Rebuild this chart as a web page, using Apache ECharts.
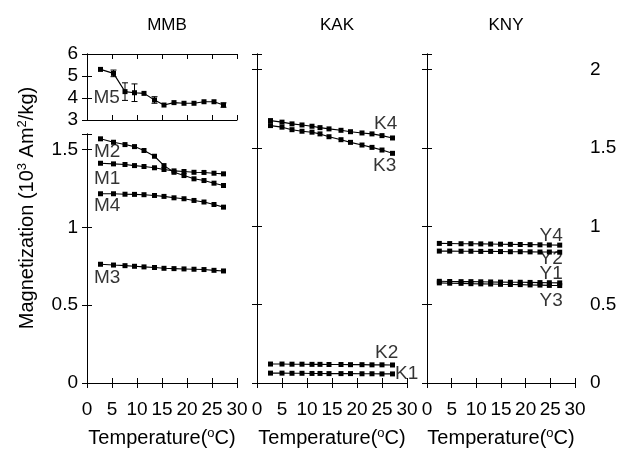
<!DOCTYPE html>
<html>
<head>
<meta charset="utf-8">
<script src="https://cdn.jsdelivr.net/npm/echarts@6/dist/echarts.min.js"></script>
<style>html,body{margin:0;padding:0;background:#fff}#c{width:626px;height:450px}</style>
</head>
<body>
<div id="c"></div>
<script>
// ---- data ----
const panelTitles = ['MMB', 'KAK', 'KNY'];
const xTicks = [0, 5, 10, 15, 20, 25, 30];
const T_M = [2.7, 5.3, 7.6, 9.5, 11.4, 13.5, 15.4, 17.4, 19.4, 21.4, 23.4, 25.4, 27.3];
const T_K = [2.7, 5.0, 7.0, 9.0, 11.0, 12.6, 14.4, 16.8, 18.7, 21.0, 23.0, 25.0, 27.1];
const T_Y = [2.5, 4.6, 6.9, 8.9, 10.9, 12.9, 14.9, 16.9, 18.9, 20.9, 22.9, 24.8, 26.9];

const M5 = [5.30, 5.12, 4.29, 4.24, 4.21, 3.91, 3.68, 3.79, 3.76, 3.76, 3.83, 3.83, 3.68];
const M5err = [0, 0.15, 0.4, 0.4, 0, 0.15, 0, 0, 0, 0, 0, 0, 0.1];
const M2 = [1.569, 1.547, 1.532, 1.519, 1.494, 1.457, 1.397, 1.354, 1.333, 1.312, 1.301, 1.284, 1.269];
const M1 = [1.412, 1.408, 1.404, 1.397, 1.391, 1.383, 1.372, 1.363, 1.359, 1.354, 1.353, 1.348, 1.344];
const M4 = [1.216, 1.216, 1.213, 1.212, 1.210, 1.205, 1.199, 1.190, 1.184, 1.173, 1.163, 1.147, 1.130];
const M3 = [0.763, 0.758, 0.754, 0.750, 0.746, 0.742, 0.737, 0.735, 0.733, 0.731, 0.729, 0.724, 0.720];
const K4 = [1.675, 1.665, 1.654, 1.647, 1.639, 1.630, 1.622, 1.613, 1.604, 1.596, 1.590, 1.579, 1.564];
const K3 = [1.643, 1.633, 1.617, 1.607, 1.601, 1.590, 1.572, 1.553, 1.536, 1.519, 1.504, 1.487, 1.466];
const K2 = [0.121, 0.121, 0.120, 0.120, 0.119, 0.119, 0.118, 0.118, 0.117, 0.117, 0.116, 0.116, 0.115];
const K1 = [0.063, 0.063, 0.062, 0.062, 0.061, 0.061, 0.060, 0.060, 0.060, 0.059, 0.059, 0.058, 0.058];
const Y4 = [0.891, 0.890, 0.889, 0.889, 0.888, 0.887, 0.886, 0.885, 0.884, 0.883, 0.882, 0.881, 0.880];
const Y2 = [0.842, 0.842, 0.841, 0.841, 0.840, 0.840, 0.839, 0.838, 0.838, 0.837, 0.836, 0.836, 0.835];
const Y1 = [0.649, 0.648, 0.647, 0.647, 0.646, 0.645, 0.644, 0.643, 0.643, 0.642, 0.641, 0.640, 0.639];
const Y3 = [0.639, 0.637, 0.636, 0.634, 0.633, 0.632, 0.630, 0.629, 0.628, 0.626, 0.625, 0.623, 0.622];

// series labels: [text, panel grid index, x (°C), y value]
const seriesLabels = [
  ['M5', 0, 1.3, 4.0],
  ['M2', 1, 1.4, 1.484],
  ['M1', 1, 1.4, 1.314],
  ['M4', 1, 1.4, 1.141],
  ['M3', 1, 1.4, 0.673],
  ['K4', 2, 23.4, 1.657],
  ['K3', 2, 23.2, 1.385],
  ['K2', 2, 23.6, 0.196],
  ['K1', 2, 27.6, 0.058],
  ['Y4', 3, 22.8, 0.942],
  ['Y2', 3, 22.8, 0.795],
  ['Y1', 3, 22.8, 0.699],
  ['Y3', 3, 22.8, 0.526]
];

// ---- chart ----
const FONT = 'Liberation Sans, Arial, Helvetica, sans-serif';
const chart = echarts.init(document.getElementById('c'), null, {renderer: 'canvas'});

const grids = [
  {left: 87, top: 54, width: 150, height: 66},
  {left: 87, top: 134, width: 150, height: 249},
  {left: 257, top: 54, width: 150, height: 329},
  {left: 427, top: 54, width: 148, height: 329}
].map(g => Object.assign(g, {containLabel: false, outerBoundsMode: 'none'}));
const yRanges = [[3, 6, 1], [0, 1.6, 0.5], [0, 2.1, 0.5], [0, 2.1, 0.5]];

const lineStyleAxis = {show: true, lineStyle: {color: '#000', width: 1}};
const tickStyle = {show: true, inside: true, length: 5, lineStyle: {color: '#000', width: 1}};
const labelFont = {color: '#000', fontSize: 19, fontFamily: FONT};

function fmtStep(step) {
  return function (v) {
    const r = v / step;
    return Math.abs(r - Math.round(r)) < 1e-6 ? String(+v.toFixed(2)) : '';
  };
}

const xAxes = [], yAxes = [];
grids.forEach((g, i) => {
  const showX = i > 0;
  xAxes.push({
    type: 'value', gridIndex: i, position: 'bottom', min: xTicks[0], max: xTicks[xTicks.length - 1], interval: 5,
    axisLine: lineStyleAxis, axisTick: tickStyle, splitLine: {show: false},
    axisLabel: Object.assign({show: showX, margin: 17, showMinLabel: true, showMaxLabel: true, hideOverlap: false}, labelFont),
    name: showX ? 'Temperature({sup|o}C)' : '',
    nameLocation: 'middle', nameGap: 44,
    nameTextStyle: {color: '#000', fontSize: 20, fontFamily: FONT, lineHeight: 22,
      rich: {sup: {fontSize: 13, fontFamily: FONT, color: '#000', verticalAlign: 'top', lineHeight: 13, padding: [0, 0, 9, 0]}}}
  });
  xAxes.push({
    type: 'value', gridIndex: i, position: 'top', min: 0, max: 30, interval: 5,
    axisLine: lineStyleAxis, axisTick: tickStyle, splitLine: {show: false}, axisLabel: {show: false}
  });
  const yr = yRanges[i];
  yAxes.push({
    type: 'value', gridIndex: i, position: 'left', min: yr[0], max: yr[1], interval: yr[2],
    axisLine: lineStyleAxis, axisTick: tickStyle, splitLine: {show: false},
    axisLabel: Object.assign({show: i < 2, margin: 9, formatter: fmtStep(yr[2])}, labelFont)
  });
  yAxes.push({
    type: 'value', gridIndex: i, position: 'right', min: yr[0], max: yr[1], interval: yr[2],
    axisLine: lineStyleAxis, axisTick: tickStyle, splitLine: {show: false},
    axisLabel: Object.assign({show: i === 3, margin: 15, formatter: fmtStep(yr[2])}, labelFont)
  });
});

function line(xs, ys, gi) {
  return {
    type: 'line', xAxisIndex: 2 * gi, yAxisIndex: 2 * gi,
    data: xs.map((x, k) => [x, ys[k]]),
    symbol: 'rect', symbolSize: 5, showSymbol: true,
    lineStyle: {color: '#000', width: 1.1}, itemStyle: {color: '#000'},
    animation: false, silent: true
  };
}

const series = [
  line(T_M, M5, 0),
  {
    type: 'custom', xAxisIndex: 0, yAxisIndex: 0, animation: false, silent: true,
    data: T_M.map((x, k) => [x, M5[k], M5err[k]]).filter(d => d[2] > 0),
    renderItem: function (params, api) {
      const x = api.value(0), y = api.value(1), e = api.value(2);
      const hi = api.coord([x, y + e]), lo = api.coord([x, y - e]);
      const w = 3;
      const st = {stroke: '#000', lineWidth: 1};
      return {type: 'group', children: [
        {type: 'line', shape: {x1: hi[0], y1: hi[1], x2: lo[0], y2: lo[1]}, style: st},
        {type: 'line', shape: {x1: hi[0] - w, y1: hi[1], x2: hi[0] + w, y2: hi[1]}, style: st},
        {type: 'line', shape: {x1: lo[0] - w, y1: lo[1], x2: lo[0] + w, y2: lo[1]}, style: st}
      ]};
    }
  },
  line(T_M, M2, 1), line(T_M, M1, 1), line(T_M, M4, 1), line(T_M, M3, 1),
  line(T_K, K4, 2), line(T_K, K3, 2), line(T_K, K2, 2), line(T_K, K1, 2),
  line(T_Y, Y4, 3), line(T_Y, Y2, 3), line(T_Y, Y1, 3), line(T_Y, Y3, 3)
];

[0, 1, 2, 3].forEach(gi => {
  const items = seriesLabels.filter(l => l[1] === gi);
  series.push({
    type: 'scatter', xAxisIndex: 2 * gi, yAxisIndex: 2 * gi, symbolSize: 0, animation: false, silent: true, z: 5,
    data: items.map(l => ({name: l[0], value: [l[2], l[3]]})),
    label: {show: true, position: 'right', distance: 0, formatter: '{b}', color: '#000', fontSize: 19, fontFamily: FONT}
  });
});

const centers = [162, 332, 501];
chart.setOption({
  backgroundColor: '#fff',
  animation: false,
  title: panelTitles.map((t, i) => ({
    text: t, left: centers[i], top: 12, textAlign: 'center',
    textStyle: {color: '#000', fontSize: 17, fontWeight: 'normal', fontFamily: FONT}
  })),
  grid: grids,
  xAxis: xAxes,
  yAxis: yAxes,
  series: series,
  graphic: [{
    type: 'text', x: 27, y: 208, rotation: Math.PI / 2,
    style: {
      text: 'Magnetization (10{sup|3} Am{sup|2}/kg)',
      fill: '#000', fontSize: 20, fontFamily: FONT, align: 'center', verticalAlign: 'middle',
      lineHeight: 22,
      rich: {sup: {fontSize: 13, fontFamily: FONT, fill: '#000', verticalAlign: 'top', lineHeight: 13, padding: [0, 0, 9, 0]}}
    }
  }]
});
</script>
</body>
</html>
